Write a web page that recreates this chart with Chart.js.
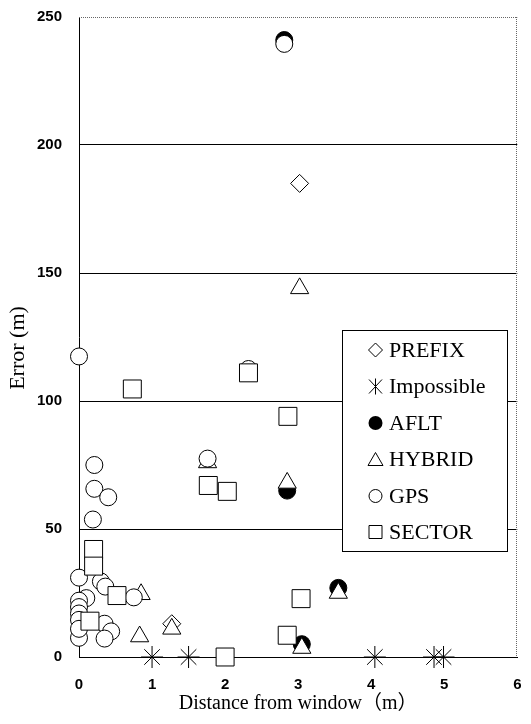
<!DOCTYPE html>
<html><head><meta charset="utf-8">
<script src="https://cdn.jsdelivr.net/npm/chart.js@4/dist/chart.umd.min.js"></script>
<style>html,body{margin:0;padding:0;background:#fff;}canvas{display:block;}</style>
</head><body>
<canvas id="c" width="531" height="724"></canvas>
<script>
// ---- data ----
const seriesNames = ["PREFIX", "Impossible", "AFLT", "HYBRID", "GPS", "SECTOR"];

const prefixX = [3.02, 1.27];
const prefixY = [185, 13];

const impossibleX = [1.0, 1.5, 4.05, 4.86, 4.99];
const impossibleY = [0, 0, 0, 0, 0];

const afltX = [2.81, 2.85, 3.55, 3.05];
const afltY = [241, 65, 27, 5];

const hybridX = [3.02, 1.76, 2.85, 3.55, 3.05, 0.85, 0.83, 1.27];
const hybridY = [144, 76, 68, 25, 3.5, 24.5, 8, 11];

const gpsX = [2.81, 0, 2.32, 1.76, 0.21, 0.21, 0.4, 0.19, 0, 0.3, 0.36, 0.1, 0, 0, 0, 0, 0.75, 0.35, 0.44, 0.35, 0, 0];
const gpsY = [239.5, 117.4, 112.5, 77.5, 75, 65.7, 62.4, 53.7, 31, 29.5, 27.5, 23, 22, 19.5, 17, 14.5, 23.3, 13, 10, 7.2, 7.5, 11];

const sectorX = [0.73, 2.32, 2.86, 1.77, 2.03, 0.2, 0.2, 0.52, 0.15, 3.04, 2.85, 2.0];
const sectorY = [104.7, 111, 94, 67, 64.7, 42, 35.5, 24, 14, 22.8, 8.5, 0];

const xTicks = [0, 1, 2, 3, 4, 5, 6];
const yTicks = [0, 50, 100, 150, 200, 250];
const xTitle = "Distance from window（m）";
const yTitle = "Error (m)";

// ---- build ----
const pts = (xs, ys) => xs.map((x, i) => ({x: x, y: ys[i]}));

const styles = [
  {pointStyle: 'rectRot', pointRadius: 9, bg: '#fff', order: 5},
  {pointStyle: 'star', pointRadius: 11, bg: '#fff', order: 1},
  {pointStyle: 'circle', pointRadius: 8.5, bg: '#000', order: 6},
  {pointStyle: 'triangle', pointRadius: 10.5, bg: '#fff', order: 4},
  {pointStyle: 'circle', pointRadius: 8.5, bg: '#fff', order: 3},
  {pointStyle: 'rect', pointRadius: 12.7, bg: '#fff', order: 2}
];
const seriesData = [
  pts(prefixX, prefixY), pts(impossibleX, impossibleY), pts(afltX, afltY),
  pts(hybridX, hybridY), pts(gpsX, gpsY), pts(sectorX, sectorY)
];

const datasets = seriesNames.map((name, i) => ({
  label: name,
  data: seriesData[i],
  pointStyle: styles[i].pointStyle,
  pointRadius: styles[i].pointRadius,
  pointBackgroundColor: styles[i].bg,
  pointBorderColor: '#000',
  pointBorderWidth: 1,
  showLine: false,
  clip: false,
  order: styles[i].order
}));

const decor = {
  id: 'decor',
  beforeDatasetsDraw(chart) {
    const {ctx, chartArea: a} = chart;
    ctx.save();
    ctx.strokeStyle = '#666';
    ctx.lineWidth = 1;
    ctx.setLineDash([1, 1]);
    ctx.beginPath();
    ctx.moveTo(a.left, Math.round(a.top) + 0.5);
    ctx.lineTo(a.right, Math.round(a.top) + 0.5);
    ctx.moveTo(Math.round(a.right) - 0.5, a.top);
    ctx.lineTo(Math.round(a.right) - 0.5, a.bottom);
    ctx.stroke();
    ctx.restore();
  },
  afterDraw(chart) {
    const ctx = chart.ctx;
    // y axis title
    ctx.save();
    ctx.translate(18, 348);
    ctx.rotate(-Math.PI / 2);
    ctx.font = '22px "Liberation Serif", serif';
    ctx.fillStyle = '#000';
    ctx.textAlign = 'center';
    ctx.textBaseline = 'middle';
    ctx.fillText(yTitle, 0, 0);
    ctx.restore();

    // legend box
    const L = 342.5, T = 330.5, R = 507.5, B = 551.5;
    ctx.save();
    ctx.fillStyle = '#fff';
    ctx.fillRect(L, T, R - L, B - T);
    ctx.strokeStyle = '#000';
    ctx.lineWidth = 1;
    ctx.strokeRect(L, T, R - L, B - T);
    const ys = [350, 386.5, 423, 459.5, 496, 532];
    const mx = 375.5;
    ctx.font = '22px "Liberation Serif", serif';
    ctx.textBaseline = 'middle';
    ctx.textAlign = 'left';
    seriesNames.forEach((name, i) => {
      const y = ys[i];
      ctx.beginPath();
      ctx.lineWidth = 1;
      ctx.strokeStyle = '#000';
      ctx.fillStyle = '#fff';
      if (i === 0) {
        ctx.moveTo(mx - 7, y); ctx.lineTo(mx, y - 7); ctx.lineTo(mx + 7, y); ctx.lineTo(mx, y + 7); ctx.closePath();
        ctx.fill(); ctx.stroke();
      } else if (i === 1) {
        ctx.moveTo(mx, y - 8); ctx.lineTo(mx, y + 8);
        ctx.moveTo(mx - 6.5, y - 7); ctx.lineTo(mx + 6.5, y + 7);
        ctx.moveTo(mx + 6.5, y - 7); ctx.lineTo(mx - 6.5, y + 7);
        ctx.stroke();
      } else if (i === 2) {
        ctx.arc(mx, y, 7, 0, Math.PI * 2);
        ctx.fillStyle = '#000';
        ctx.fill();
      } else if (i === 3) {
        ctx.moveTo(mx, y - 7); ctx.lineTo(mx + 7.5, y + 6); ctx.lineTo(mx - 7.5, y + 6); ctx.closePath();
        ctx.fill(); ctx.stroke();
      } else if (i === 4) {
        ctx.arc(mx, y, 6.5, 0, Math.PI * 2);
        ctx.fill(); ctx.stroke();
      } else {
        ctx.rect(mx - 6.5, y - 6.5, 13, 13);
        ctx.fill(); ctx.stroke();
      }
      ctx.fillStyle = '#000';
      ctx.fillText(name, 389, y + 1);
    });
    ctx.restore();
  }
};

new Chart(document.getElementById('c'), {
  type: 'scatter',
  data: {datasets: datasets},
  options: {
    responsive: false,
    animation: false,
    devicePixelRatio: 1,
    events: [],
    layout: {padding: {top: 17, right: 12, bottom: 0, left: 0}},
    plugins: {legend: {display: false}, tooltip: {enabled: false}},
    scales: {
      x: {
        type: 'linear',
        min: 0, max: 6,
        afterFit: s => { s.height = 67; s.paddingLeft = 0; s.paddingRight = 0; },
        afterBuildTicks: s => { s.ticks = xTicks.map(v => ({value: v})); },
        grid: {display: false, drawTicks: false},
        border: {display: true, color: '#000', width: 1},
        ticks: {
          color: '#000', padding: 19,
          font: {family: '"Liberation Sans", Arial, sans-serif', size: 15, weight: 'bold'}
        },
        title: {
          display: true, text: xTitle, color: '#000',
          font: {family: '"Liberation Serif", "Noto Sans CJK JP", serif', size: 20},
          padding: {top: 0, bottom: 8}
        }
      },
      y: {
        type: 'linear',
        min: 0, max: 250,
        afterFit: s => { s.width = 79; s.paddingTop = 0; s.paddingBottom = 0; },
        afterBuildTicks: s => { s.ticks = yTicks.map(v => ({value: v})); },
        grid: {
          drawTicks: false,
          lineWidth: 1,
          color: c => (c.tick && (c.tick.value === 0 || c.tick.value === 250)) ? 'rgba(0,0,0,0)' : '#000'
        },
        border: {display: true, color: '#000', width: 1},
        ticks: {
          color: '#000', padding: 17,
          font: {family: '"Liberation Sans", Arial, sans-serif', size: 15, weight: 'bold'}
        },
        title: {display: false}
      }
    }
  },
  plugins: [decor]
});
</script>
</body></html>
